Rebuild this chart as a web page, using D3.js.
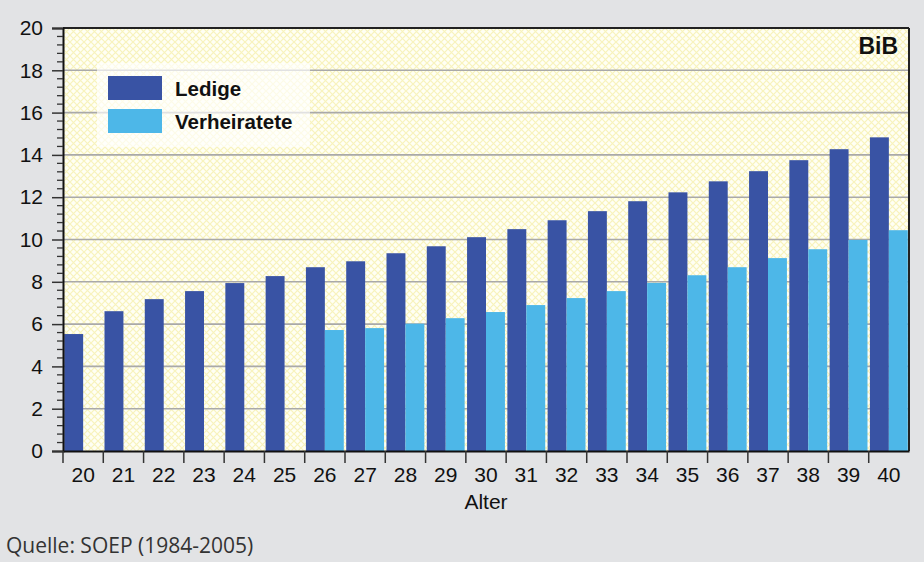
<!DOCTYPE html>
<html>
<head>
<meta charset="utf-8">
<script src="https://cdn.jsdelivr.net/npm/d3@7"></script>
<style>
  body { margin: 0; background: #e2e3e5; }
  svg { display: block; }
  text { font-family: Arial, "Liberation Sans", sans-serif; }
  text.quelle { font-family: "Open Sans", "DejaVu Sans", sans-serif; }
</style>
</head>
<body>
<div id="chart"></div>
<script>
// Alter (Kategorien)
var ages = ["20","21","22","23","24","25","26","27","28","29","30","31","32","33","34","35","36","37","38","39","40"];
// Ledige
var ledige = [5.53, 6.61, 7.18, 7.56, 7.94, 8.27, 8.69, 8.97, 9.35, 9.68, 10.11, 10.49, 10.91, 11.34, 11.81, 12.23, 12.75, 13.23, 13.75, 14.27, 14.83];
// Verheiratete (erst ab 26)
var verheiratete = [null, null, null, null, null, null, 5.72, 5.81, 6.02, 6.28, 6.57, 6.9, 7.23, 7.56, 7.95, 8.31, 8.69, 9.12, 9.54, 9.98, 10.44];
var yTicks = [0, 2, 4, 6, 8, 10, 12, 14, 16, 18, 20];
var seriesNames = ["Ledige", "Verheiratete"];
var colors = ["#3953a4", "#4db7e8"];

var W = 924, H = 562;
var margin = { top: 28, right: 15, bottom: 111, left: 63 };
var width = W - margin.left - margin.right,
  height = H - margin.top - margin.bottom;

var svg = d3.select("#chart").append("svg")
  .attr("width", W)
  .attr("height", H);

svg.append("rect").attr("width", W).attr("height", H).attr("fill", "#e2e3e5");

// gitter-muster fuer den hintergrund
var defs = svg.append("defs");
var pat = defs.append("pattern")
  .attr("id", "hatch")
  .attr("patternUnits", "userSpaceOnUse")
  .attr("width", 7).attr("height", 7);
pat.append("rect").attr("width", 7).attr("height", 7).attr("fill", "#fffff4");
pat.append("path")
  .attr("d", "M0,0 L7,7 M7,0 L0,7")
  .attr("stroke", "#f8f3bc")
  .attr("stroke-width", 1.2);

var g = svg.append("g")
  .attr("transform", "translate(" + margin.left + "," + margin.top + ")");

var x = d3.scaleBand().domain(ages).range([0, width]).paddingInner(0.06).paddingOuter(0.03);
var xOuter = d3.scaleBand().domain(ages).range([0, width]);
var x1 = d3.scaleBand().domain(seriesNames).range([0, x.bandwidth()]);
var y = d3.scaleLinear().domain([0, 20]).range([height, 0]);

g.append("rect").attr("width", width).attr("height", height).attr("fill", "url(#hatch)");

// gitterlinien
g.selectAll(".grid")
  .data(yTicks.filter(function(d) { return d > 0 && d < 20; }))
  .enter().append("line")
  .attr("x1", 0).attr("x2", width)
  .attr("y1", function(d) { return y(d); })
  .attr("y2", function(d) { return y(d); })
  .attr("stroke", "#a9a9a9")
  .attr("stroke-width", 1.6);

// legende
var leg = g.append("g").attr("transform", "translate(34,35)");
leg.append("rect")
  .attr("width", 213).attr("height", 84)
  .attr("fill", "#ffffff").attr("fill-opacity", 0.65);
seriesNames.forEach(function(name, i) {
  leg.append("rect")
    .attr("x", 11).attr("y", 13 + i * 33)
    .attr("width", 54).attr("height", 24)
    .attr("fill", colors[i]);
  leg.append("text")
    .attr("x", 78).attr("y", 33 + i * 33)
    .attr("font-size", 20.5).attr("font-weight", "bold")
    .attr("fill", "#111")
    .text(name);
});

// balken
var groups = g.selectAll(".grp")
  .data(ages)
  .enter().append("g")
  .attr("transform", function(d) { return "translate(" + x(d) + ",0)"; });

groups.append("rect")
  .attr("x", x1("Ledige"))
  .attr("width", x1.bandwidth())
  .attr("y", function(d, i) { return y(ledige[i]); })
  .attr("height", function(d, i) { return height - y(ledige[i]); })
  .attr("fill", colors[0]);

groups.filter(function(d, i) { return verheiratete[i] != null; })
  .append("rect")
  .attr("x", x1("Verheiratete"))
  .attr("width", x1.bandwidth())
  .attr("y", function(d) { return y(verheiratete[ages.indexOf(d)]); })
  .attr("height", function(d) { return height - y(verheiratete[ages.indexOf(d)]); })
  .attr("fill", colors[1]);

// rahmen oben und rechts
g.append("line").attr("x1", 0).attr("x2", width).attr("y1", 0).attr("y2", 0)
  .attr("stroke", "#222").attr("stroke-width", 2);
g.append("line").attr("x1", width).attr("x2", width).attr("y1", 0).attr("y2", height)
  .attr("stroke", "#222").attr("stroke-width", 2);

// y-achse
var yAxis = d3.axisLeft(y).tickValues(yTicks).tickSize(11).tickPadding(9);
var yg = g.append("g").call(yAxis);
yg.select(".domain").attr("stroke", "#111").attr("stroke-width", 2);
yg.selectAll(".tick line").attr("stroke", "#333").attr("stroke-width", 1.5);
yg.selectAll("text").attr("font-size", 21).attr("fill", "#111");

var minor = d3.range(0, 20.01, 0.4).filter(function(v) { return Math.abs(v / 2 - Math.round(v / 2)) > 0.01; });
g.selectAll(".minor")
  .data(minor)
  .enter().append("line")
  .attr("x1", -6).attr("x2", 0)
  .attr("y1", function(d) { return y(d); })
  .attr("y2", function(d) { return y(d); })
  .attr("stroke", "#333").attr("stroke-width", 1.3);

// x-achse
var xg = g.append("g").attr("transform", "translate(0," + height + ")")
  .call(d3.axisBottom(xOuter).tickSize(0).tickPadding(16));
xg.select(".domain").attr("stroke", "#111").attr("stroke-width", 2);
xg.selectAll("text").attr("font-size", 21).attr("fill", "#111");
xg.selectAll(".sep")
  .data(ages)
  .enter().append("line")
  .attr("x1", function(d) { return xOuter(d); })
  .attr("x2", function(d) { return xOuter(d); })
  .attr("y1", 0).attr("y2", 12)
  .attr("stroke", "#333").attr("stroke-width", 1.5);

g.append("text")
  .attr("x", width / 2).attr("y", height + 58)
  .attr("text-anchor", "middle")
  .attr("font-size", 21).attr("fill", "#111")
  .text("Alter");

g.append("text")
  .attr("x", width - 11).attr("y", 26)
  .attr("text-anchor", "end")
  .attr("font-size", 23).attr("font-weight", "bold").attr("fill", "#111")
  .text("BiB");

svg.append("text")
  .attr("class", "quelle")
  .attr("x", 6).attr("y", 553)
  .attr("font-size", 21)
  .attr("fill", "#333")
  .text("Quelle: SOEP (1984-2005)");
</script>
</body>
</html>
